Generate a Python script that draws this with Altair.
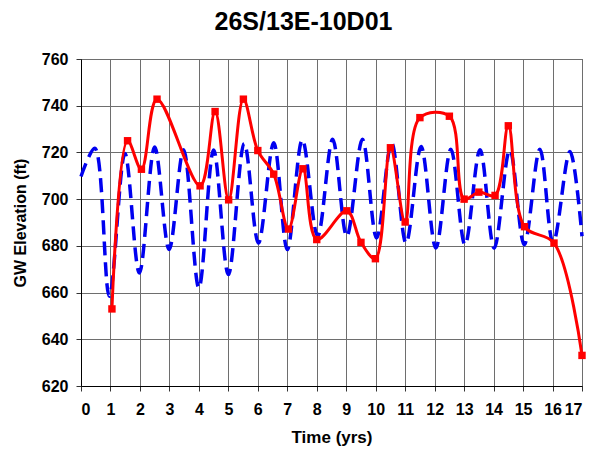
import altair as alt
import pandas as pd

# Observed water levels (red squares)
red_years = [1.05, 1.58, 2.05, 2.58, 4.04, 4.55, 5.01, 5.51, 6.0, 6.54, 7.04, 7.53, 8.0,
             9.02, 9.5, 9.99, 10.5, 11.0, 11.5, 12.5, 13.0, 13.5, 14.05, 14.5, 15.05, 16.05, 17.0]
red_elev = [653, 725, 712.8, 742.8, 705.7, 737.5, 699.7, 742.8, 720.8, 710.7, 687.2, 713, 682.7,
            695, 681.5, 674.5, 722, 690.2, 734.9, 735.5, 700, 703, 701.6, 731.4, 688.2, 681.2, 633.1]

# Simulated water levels (blue dashed) - peaks and troughs
blue_years = [0.0, 0.47, 0.96, 1.49, 1.98, 2.5, 2.99, 3.48, 4.0, 4.5, 5.0, 5.54, 6.02, 6.54,
              7.0, 7.51, 8.03, 8.54, 9.02, 9.55, 10.03, 10.54, 11.03, 11.54, 12.04, 12.55,
              13.03, 13.54, 14.02, 14.55, 15.04, 15.57, 16.02, 16.59, 17.0]
blue_elev = [709.7, 721.8, 658.4, 719.5, 668.4, 722.3, 678.4, 721.2, 662, 721, 667.7, 723.8,
             681.2, 724.1, 678.4, 725.4, 684.1, 725.6, 684.1, 725.6, 683.4, 724, 681.2, 722.5,
             679.1, 721.4, 680.5, 721.1, 679, 721.1, 680.5, 721.4, 681.2, 720.4, 684.1]

x_ticks = list(range(0, 18))
y_ticks = list(range(620, 761, 20))

red_df = pd.DataFrame({"t": red_years, "elev": red_elev})
blue_df = pd.DataFrame({"t": blue_years, "elev": blue_elev})

FONT = "Liberation Sans"

x_enc = alt.X(
    "t:Q",
    scale=alt.Scale(domain=[0, 17], nice=False, zero=False),
    axis=alt.Axis(values=x_ticks, title="Time (yrs)", format="d"),
)
y_enc = alt.Y(
    "elev:Q",
    scale=alt.Scale(domain=[620, 760], nice=False, zero=False),
    axis=alt.Axis(values=y_ticks, title="GW Elevation (ft)", format="d"),
)

blue = alt.Chart(blue_df).mark_line(
    color="#0000F0", strokeWidth=3.5, strokeDash=[14, 7], interpolate="catmull-rom"
).encode(x=x_enc, y=y_enc)

red_line = alt.Chart(red_df).mark_line(
    color="#FF0000", strokeWidth=3, interpolate="catmull-rom"
).encode(x=x_enc, y=y_enc)

red_pts = alt.Chart(red_df).mark_square(
    color="#FF0000", size=55, opacity=1
).encode(x=x_enc, y=y_enc)

chart = alt.layer(blue, red_line, red_pts).properties(
    width=501,
    height=327,
    autosize=alt.AutoSizeParams(type="none"),
    padding={"left": 73, "top": 51, "right": 12, "bottom": 72},
    title=alt.TitleParams(
        "26S/13E-10D01", font=FONT, fontSize=25, fontWeight="bold", color="black",
        anchor="middle", dx=-28, dy=17, offset=8, baseline="bottom",
    ),
).configure_axis(
    labelFont=FONT, labelFontSize=16, labelFontWeight="bold", labelColor="black",
    titleFont=FONT, titleFontSize=16, titleFontWeight="bold", titleColor="black",
    grid=True, gridColor="#6e6e6e", gridOpacity=1, gridWidth=1,
    domainColor="black", tickColor="#333333", tickSize=5,
).configure_axisX(
    labelPadding=10, titlePadding=12, titleFontSize=17, labelAngle=0,
).configure_axisY(
    labelPadding=8, titlePadding=13,
).configure_view(
    stroke="#444444", strokeWidth=1
)

chart.save("out.html", embed_options={"renderer": "svg", "actions": False})
